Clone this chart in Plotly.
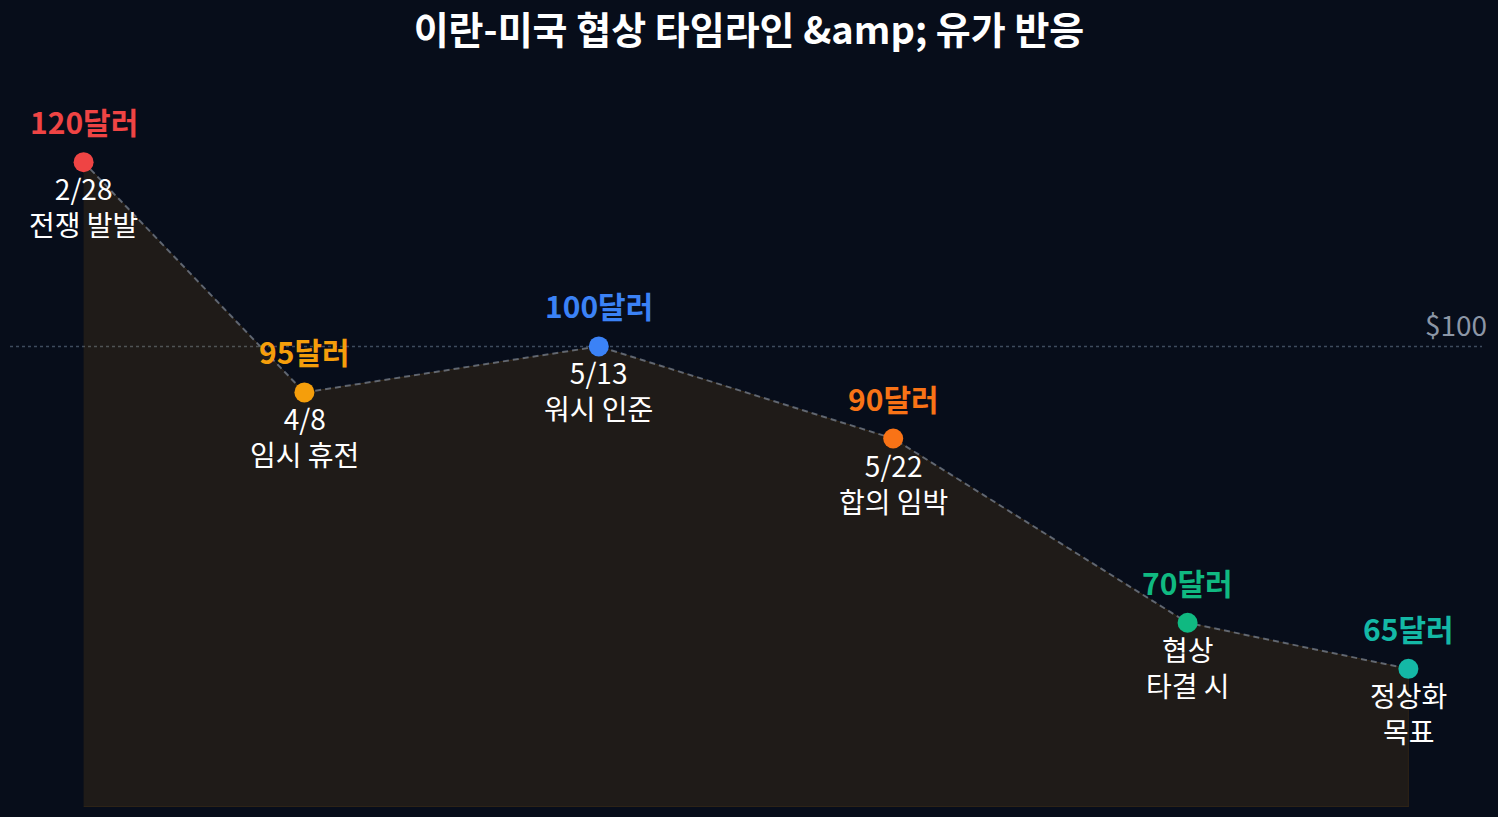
import plotly.graph_objects as go

# ---- data ----
x_pos = [0, 0.75, 1.75, 2.75, 3.75, 4.5]
prices = [120, 95, 100, 90, 70, 65]
price_labels = ["120달러", "95달러", "100달러", "90달러", "70달러", "65달러"]
event_labels = ["2/28<br>전쟁 발발", "4/8<br>임시 휴전", "5/13<br>워시 인준",
                "5/22<br>합의 임박", "협상<br>타결 시", "정상화<br>목표"]
colors = ["#ef4444", "#f59e0b", "#3b82f6", "#f97316", "#10b981", "#14b8a6"]
ref_price = 100
ref_label = "$100"
base_price = 50
title_text = "이란-미국 협상 타임라인 &amp;amp; 유가 반응"

FONT = "Noto Sans CJK KR"
BG = "#070d1a"

fig = go.Figure()

# filled area polygon
fig.add_trace(go.Scatter(
    x=x_pos + [x_pos[-1], x_pos[0]],
    y=prices + [base_price, base_price],
    fill="toself", fillcolor="rgba(245,158,11,0.1)",
    line=dict(color="rgba(245,158,11,0.13)", width=1),
    mode="lines", hoverinfo="skip", showlegend=False))

# dashed line
fig.add_trace(go.Scatter(
    x=x_pos, y=prices, mode="lines",
    line=dict(color="rgba(148,163,184,0.55)", width=2, dash="6px,4px"),
    hoverinfo="skip", showlegend=False))

# markers
fig.add_trace(go.Scatter(
    x=x_pos, y=prices, mode="markers",
    marker=dict(size=20, color=colors, line=dict(width=0)),
    showlegend=False))

# reference line
fig.add_shape(type="line", xref="paper", x0=0, x1=1, yref="y", y0=ref_price, y1=ref_price,
              line=dict(color="rgba(100,116,139,0.6)", width=1.5, dash="dot"), layer="below")
fig.add_annotation(xref="paper", x=1, y=ref_price, yref="y", text=ref_label,
                   showarrow=False, xanchor="right", yanchor="bottom", yshift=0, xshift=7,
                   font=dict(family=FONT, size=28, color="#8c96a6"))

for xp, p, pl, ev, c in zip(x_pos, prices, price_labels, event_labels, colors):
    fig.add_annotation(x=xp, y=p, text=f"<b>{pl}</b>", showarrow=False,
                       xanchor="center", yanchor="middle", yshift=41,
                       font=dict(family=FONT, size=30, color=c, weight=800))
    fig.add_annotation(x=xp, y=p, text=ev, showarrow=False,
                       xanchor="center", yanchor="top", yshift=-4,
                       font=dict(family=FONT, size=28, color="#ffffff"))

fig.update_layout(
    width=1498, height=817,
    paper_bgcolor=BG, plot_bgcolor=BG,
    margin=dict(l=10, r=16, t=70, b=10),
    title=dict(text=f"<b>{title_text}</b>", x=0.5, xanchor="center", y=0.963, yanchor="middle",
               font=dict(family=FONT, size=38, color="#ffffff", weight=800)),
    xaxis=dict(range=[-0.25, 4.75], visible=False),
    yaxis=dict(range=[base_price, 130], visible=False),
    showlegend=False,
)

fig.write_html("out.html", config={"displayModeBar": False},
               post_script="document.body.style.margin='0';document.body.style.overflow='hidden';")
